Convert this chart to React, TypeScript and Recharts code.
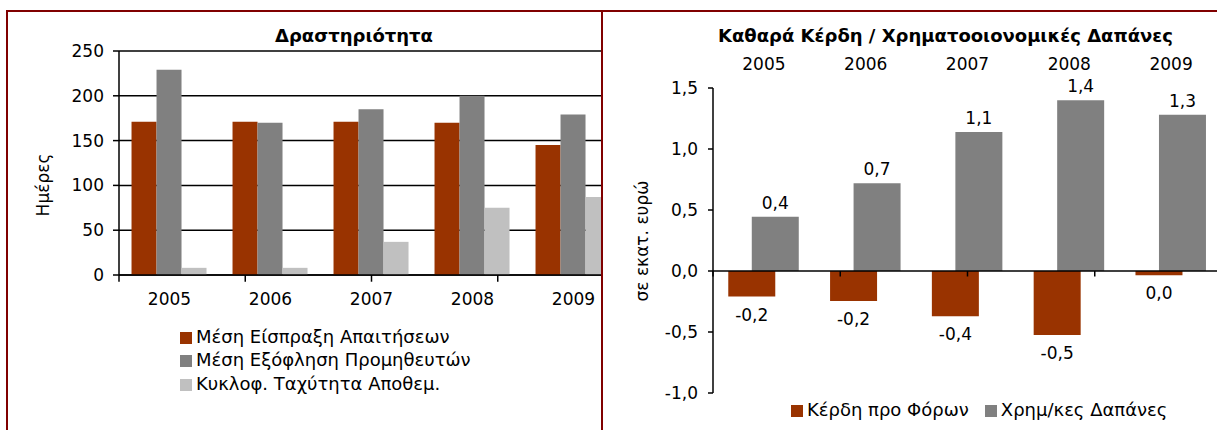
import React from 'react';
import { BarChart, Bar, XAxis, YAxis, CartesianGrid, Legend, ReferenceLine, LabelList } from 'recharts';

const years = ['2005', '2006', '2007', '2008', '2009'];

// Δραστηριότητα (ημέρες)
const receivableDays = [171, 171, 171, 170, 145];
const payableDays = [229, 170, 185, 200, 179];
const inventoryDays = [8, 8, 37, 75, 87];
const activityTicks = [0, 50, 100, 150, 200, 250];

// Καθαρά Κέρδη / Χρηματοοικονομικές Δαπάνες (εκατ. ευρώ)
const profitBeforeTax = [-0.21, -0.245, -0.37, -0.525, -0.035];
const financialExpenses = [0.445, 0.72, 1.14, 1.4, 1.28];
const profitTicks = [-1, -0.5, 0, 0.5, 1, 1.5];

// category boundaries, for the small tick marks between the years
const boundaries = [0, 1, 2, 3, 4, 5];

// legend order = order the series are declared
const seriesOrder = ['receivable', 'payable', 'inventory', 'profit', 'expenses'];

const RUST = '#993300';
const GREY = '#808080';
const LIGHT = '#c0c0c0';
const FRAME = '#800000';
const INK = '#000';

const activityData = years.map((year, i) => ({
  year,
  receivable: receivableDays[i],
  payable: payableDays[i],
  inventory: inventoryDays[i],
}));

const profitData = years.map((year, i) => ({
  year,
  profit: profitBeforeTax[i],
  expenses: financialExpenses[i],
}));

const fmt = (v: number) => (Math.round(v * 10) / 10).toFixed(1).replace('.', ',');
const blackText = (value: string) => <span style={{ color: INK }}>{value}</span>;
const bySeries = (item: any) => seriesOrder.indexOf(String(item.dataKey));

const tickStyle = { fontSize: 17, fill: INK };
const lineStyle = { stroke: INK, strokeWidth: 1.5 };

const centered = (x: number, y: number, extra: React.CSSProperties = {}): React.CSSProperties => ({
  position: 'absolute',
  left: x,
  top: y,
  transform: 'translate(-50%, -50%)',
  whiteSpace: 'nowrap',
  fontSize: 17,
  color: INK,
  ...extra,
});

const ActivityChart = () => (
  <div style={{ position: 'absolute', left: 0, top: 0, width: 601, height: 430, overflow: 'hidden' }}>
    <BarChart
      width={700}
      height={430}
      data={activityData}
      margin={{ top: 51, right: 76, bottom: 125, left: 59 }}
      barCategoryGap="12.4%"
      barGap={0}
    >
      <CartesianGrid xAxisId="cat" vertical={false} stroke={INK} strokeWidth={1.5} />
      <XAxis
        xAxisId="cat"
        dataKey="year"
        height={30}
        axisLine={lineStyle}
        tickLine={false}
        tickMargin={12}
        tick={tickStyle}
      />
      <XAxis xAxisId="n" type="number" domain={[0, 5]} hide />
      <YAxis
        domain={[0, 250]}
        ticks={activityTicks}
        interval={0}
        width={60}
        axisLine={lineStyle}
        tickLine={lineStyle}
        tickSize={6}
        tickMargin={9}
        tick={tickStyle}
      />
      {boundaries.map((b) => (
        <ReferenceLine
          key={b}
          xAxisId="n"
          segment={[{ x: b, y: 0 }, { x: b, y: -7.5 }]}
          ifOverflow="visible"
          stroke={INK}
          strokeWidth={1.5}
        />
      ))}
      <Bar xAxisId="cat" dataKey="receivable" name="Μέση Είσπραξη Απαιτήσεων" fill={RUST} isAnimationActive={false} />
      <Bar xAxisId="cat" dataKey="payable" name="Μέση Εξόφληση Προμηθευτών" fill={GREY} isAnimationActive={false} />
      <Bar xAxisId="cat" dataKey="inventory" name="Κυκλοφ. Ταχύτητα Αποθεμ." fill={LIGHT} isAnimationActive={false} />
      <Legend
        layout="vertical"
        align="center"
        verticalAlign="middle"
        iconType="square"
        iconSize={12}
        itemSorter={bySeries}
        formatter={blackText}
        wrapperStyle={{ left: 180, top: 325, width: 'auto', fontSize: 18, lineHeight: '23.3px' }}
      />
    </BarChart>
  </div>
);

const ProfitChart = () => (
  <div
    className="profit-panel"
    style={{ position: 'absolute', left: 603, top: 0, width: 614, height: 430, overflow: 'hidden' }}
  >
    <BarChart
      width={640}
      height={430}
      data={profitData}
      margin={{ top: 48, right: 21, bottom: 37, left: 50 }}
      barCategoryGap="15%"
      barGap={-23.5}
    >
      <XAxis
        xAxisId="cat"
        dataKey="year"
        orientation="top"
        height={40}
        axisLine={false}
        tickLine={false}
        tickMargin={12}
        tick={tickStyle}
      />
      <XAxis xAxisId="n" type="number" domain={[0, 5]} hide />
      <YAxis
        domain={[-1, 1.5]}
        ticks={profitTicks}
        interval={0}
        tickFormatter={fmt}
        width={60}
        axisLine={lineStyle}
        tickLine={lineStyle}
        tickSize={5}
        tickMargin={10}
        tick={tickStyle}
      />
      <Bar xAxisId="cat" dataKey="profit" name="Κέρδη προ Φόρων" fill={RUST} isAnimationActive={false}>
        <LabelList dataKey="profit" position="top" offset={12} formatter={fmt} fontSize={17} fill={INK} />
      </Bar>
      <Bar xAxisId="cat" dataKey="expenses" name="Χρημ/κες Δαπάνες" fill={GREY} isAnimationActive={false}>
        <LabelList dataKey="expenses" position="top" offset={8} formatter={fmt} fontSize={17} fill={INK} />
      </Bar>
      <ReferenceLine xAxisId="cat" y={0} stroke={INK} strokeWidth={1.5} />
      {boundaries.map((b) => (
        <ReferenceLine
          key={b}
          xAxisId="n"
          segment={[{ x: b, y: 0 }, { x: b, y: -0.045 }]}
          ifOverflow="visible"
          stroke={INK}
          strokeWidth={1.5}
        />
      ))}
      <Legend
        layout="horizontal"
        align="center"
        verticalAlign="middle"
        iconType="square"
        iconSize={12}
        itemSorter={bySeries}
        formatter={blackText}
        wrapperStyle={{ left: 188, top: 399, width: 'auto', fontSize: 18, lineHeight: '22px' }}
      />
    </BarChart>
  </div>
);

export default function App() {
  return (
    <div
      style={{
        position: 'absolute',
        left: 0,
        top: 0,
        width: 1217,
        height: 430,
        overflow: 'hidden',
        background: '#fff',
        fontFamily: '"DejaVu Sans", Verdana, sans-serif',
      }}
    >
      <style>{'.profit-panel .recharts-legend-item { margin-right: 16px !important; }'}</style>
      <ActivityChart />
      <ProfitChart />

      <div style={centered(354, 35, { fontWeight: 'bold', fontSize: 18 })}>Δραστηριότητα</div>
      <div style={centered(945.5, 35, { fontWeight: 'bold', fontSize: 18 })}>
        Καθαρά Κέρδη / Χρηματοοιονομικές Δαπάνες
      </div>
      <div style={centered(42.7, 185, { transform: 'translate(-50%, -50%) rotate(-90deg)' })}>Ημέρες</div>
      <div style={centered(641.7, 240.5, { transform: 'translate(-50%, -50%) rotate(-90deg)' })}>σε εκατ. ευρώ</div>

      {/* frame around both panels */}
      <div
        style={{
          position: 'absolute',
          left: 6,
          top: 10,
          width: 1300,
          height: 500,
          border: `2px solid ${FRAME}`,
          pointerEvents: 'none',
        }}
      />
      <div style={{ position: 'absolute', left: 601, top: 10, width: 2, height: 500, background: FRAME }} />
    </div>
  );
}
